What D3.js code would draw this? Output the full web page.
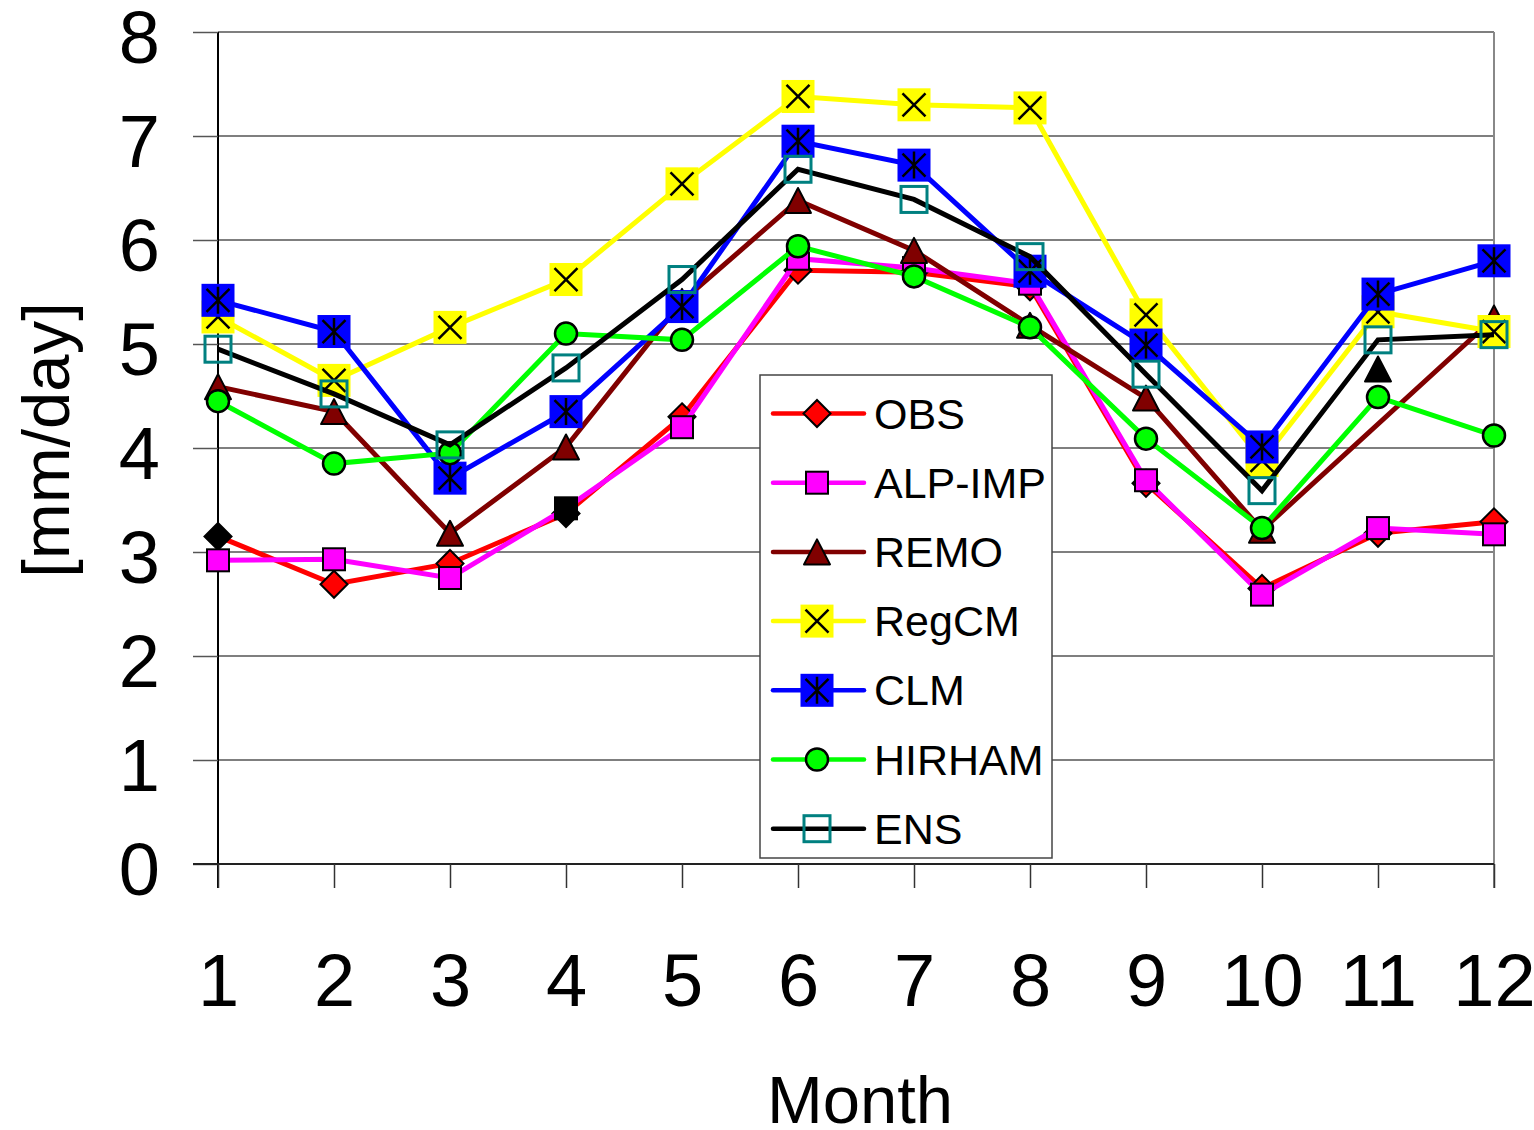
<!DOCTYPE html>
<html>
<head>
<meta charset="utf-8">
<script src="https://cdn.jsdelivr.net/npm/d3@7"></script>
<style>
  html, body { margin: 0; padding: 0; background: #fff; }
  svg { display: block; font-family: "Liberation Sans", Arial, sans-serif; }
</style>
</head>
<body>
<svg id="chart" width="1534" height="1130"></svg>
<script>
// Monthly mean precipitation [mm/day]
const months = [1, 2, 3, 4, 5, 6, 7, 8, 9, 10, 11, 12];
const yTicks = [0, 1, 2, 3, 4, 5, 6, 7, 8];

const obs    = [3.15, 2.69, 2.89, 3.37, 4.30, 5.71, 5.69, 5.55, 3.66, 2.65, 3.18, 3.29];
const alpImp = [2.92, 2.93, 2.75, 3.42, 4.20, 5.82, 5.73, 5.58, 3.69, 2.59, 3.23, 3.17];
const remo   = [4.59, 4.35, 3.18, 4.01, 5.41, 6.38, 5.90, 5.18, 4.48, 3.21, null, 5.25];
const regcm  = [5.26, 4.65, 5.16, 5.62, 6.54, 7.38, 7.30, 7.27, 5.28, 3.88, 5.31, 5.12];
const clm    = [5.42, 5.12, 3.71, 4.35, 5.36, 6.95, 6.72, 5.70, 4.99, 4.01, 5.48, 5.80];
const hirham = [4.45, 3.85, 3.95, 5.10, 5.04, 5.94, 5.65, 5.16, 4.09, 3.23, 4.49, 4.12];
const ens    = [4.95, 4.52, 4.03, 4.77, 5.62, 6.68, 6.39, 5.84, 4.71, 3.59, 5.04, 5.09];

const seriesNames = ["OBS", "ALP-IMP", "REMO", "RegCM", "CLM", "HIRHAM", "ENS"];
const seriesValues = [obs, alpImp, remo, regcm, clm, hirham, ens];

// points whose marker is filled black
const blackMarkers = [["OBS", 1], ["OBS", 4], ["ALP-IMP", 4]];
// a single marker not joined to its series line
const strayPoints = [{ series: "REMO", month: 11, value: 4.76 }];

const style = {
  "OBS":     { line: "#ff0000", marker: "diamond",  fill: "#ff0000" },
  "ALP-IMP": { line: "#ff00ff", marker: "square",   fill: "#ff00ff" },
  "REMO":    { line: "#800000", marker: "triangle", fill: "#800000" },
  "RegCM":   { line: "#ffff00", marker: "xbox",     fill: "#ffff00" },
  "CLM":     { line: "#0000ff", marker: "starbox",  fill: "#0000ff" },
  "HIRHAM":  { line: "#00ff00", marker: "circle",   fill: "#00ff00" },
  "ENS":     { line: "#000000", marker: "hollow",   fill: "none" }
};

const svg = d3.select("#chart");
const plotLeft = 218, plotRight = 1494, plotTop = 32, plotBottom = 864;

const x = d3.scaleLinear().domain([1, 12]).range([plotLeft, plotRight]);
const y = d3.scaleLinear().domain([0, 8]).range([plotBottom, plotTop]);

// horizontal gridlines
svg.append("g")
  .selectAll("line")
  .data(yTicks.filter(v => v > 0))
  .join("line")
  .attr("x1", plotLeft).attr("x2", plotRight)
  .attr("y1", d => y(d)).attr("y2", d => y(d))
  .attr("stroke", "#555").attr("stroke-width", 1.5);

// right frame edge
svg.append("line")
  .attr("x1", plotRight).attr("x2", plotRight)
  .attr("y1", plotTop).attr("y2", plotBottom + 24)
  .attr("stroke", "#888").attr("stroke-width", 2);

// y axis
const yAxis = svg.append("g")
  .attr("transform", `translate(${plotLeft},0)`)
  .call(d3.axisLeft(y).tickValues(yTicks).tickSize(25).tickSizeOuter(0).tickFormat(d3.format("d")));
yAxis.select(".domain").attr("stroke", "#000").attr("stroke-width", 2)
  .attr("d", `M0,${plotTop}V${plotBottom + 24}`);
yAxis.selectAll(".tick line").attr("stroke", "#555").attr("stroke-width", 1.5);
yAxis.selectAll(".tick text")
  .attr("x", -58).attr("dy", null).attr("y", 30)
  .attr("font-size", 74).attr("fill", "#000")
  .attr("font-family", "'Liberation Sans', Arial, sans-serif");

// x axis
const xAxis = svg.append("g")
  .attr("transform", `translate(0,${plotBottom})`)
  .call(d3.axisBottom(x).tickValues(months).tickSize(24).tickSizeOuter(0).tickFormat(d3.format("d")));
xAxis.select(".domain").attr("stroke", "#222").attr("stroke-width", 2)
  .attr("d", `M${plotLeft - 25},0H${plotRight}`);
xAxis.selectAll(".tick line").attr("stroke", "#333").attr("stroke-width", 1.5);
xAxis.selectAll(".tick text")
  .attr("y", 142).attr("dy", null)
  .attr("font-size", 74).attr("fill", "#000")
  .attr("font-family", "'Liberation Sans', Arial, sans-serif");

// axis titles
svg.append("text")
  .attr("x", 860).attr("y", 1123)
  .attr("text-anchor", "middle").attr("font-size", 67)
  .text("Month");
svg.append("text")
  .attr("transform", "translate(69,440) rotate(-90)")
  .attr("text-anchor", "middle").attr("font-size", 67)
  .text("[mm/day]");

// marker painter
function drawMarker(g, kind, fill) {
  switch (kind) {
    case "diamond":
      g.append("path").attr("d", "M0,-13.5L13.5,0L0,13.5L-13.5,0Z")
        .attr("fill", fill).attr("stroke", "#000").attr("stroke-width", 2);
      break;
    case "square":
      g.append("rect").attr("x", -11).attr("y", -11).attr("width", 22).attr("height", 22)
        .attr("fill", fill).attr("stroke", "#000").attr("stroke-width", 2);
      break;
    case "triangle":
      g.append("path").attr("d", "M0,-12.5L13,12.5L-13,12.5Z")
        .attr("fill", fill).attr("stroke", "#000").attr("stroke-width", 2)
        .attr("stroke-linejoin", "round");
      break;
    case "xbox":
      g.append("rect").attr("x", -16.5).attr("y", -16.5).attr("width", 33).attr("height", 33)
        .attr("fill", fill);
      g.append("path").attr("d", "M-11.5,-11.5L11.5,11.5M11.5,-11.5L-11.5,11.5")
        .attr("stroke", "#000").attr("stroke-width", 2.5);
      break;
    case "starbox":
      g.append("rect").attr("x", -16.5).attr("y", -16.5).attr("width", 33).attr("height", 33)
        .attr("fill", fill);
      g.append("path").attr("d", "M-11.5,-11.5L11.5,11.5M11.5,-11.5L-11.5,11.5M0,-13.5L0,13.5")
        .attr("stroke", "#000").attr("stroke-width", 2.5);
      break;
    case "circle":
      g.append("circle").attr("r", 11)
        .attr("fill", fill).attr("stroke", "#000").attr("stroke-width", 2.5);
      break;
    case "hollow":
      g.append("rect").attr("x", -13).attr("y", -13).attr("width", 26).attr("height", 26)
        .attr("fill", "none").attr("stroke", "#008080").attr("stroke-width", 3);
      break;
  }
}

const line = d3.line().x(d => x(d.month)).y(d => y(d.value));

// series: line then markers, in order
seriesNames.forEach((name, i) => {
  const st = style[name];
  const pts = months.map((m, j) => ({ month: m, value: seriesValues[i][j] }))
    .filter(d => d.value != null);
  const g = svg.append("g").attr("class", "series");
  g.append("path").datum(pts)
    .attr("d", line)
    .attr("fill", "none").attr("stroke", st.line).attr("stroke-width", 5)
    .attr("stroke-linejoin", "miter");
  pts.forEach(p => {
    const black = blackMarkers.some(b => b[0] === name && b[1] === p.month);
    const mg = g.append("g").attr("transform", `translate(${x(p.month)},${y(p.value)})`);
    drawMarker(mg, st.marker, black ? "#000" : st.fill);
  });
  strayPoints.filter(s => s.series === name).forEach(s => {
    const mg = g.append("g").attr("transform", `translate(${x(s.month)},${y(s.value)})`);
    drawMarker(mg, st.marker, "#000");
  });
});

// legend
const legend = svg.append("g").attr("transform", "translate(760,375)");
legend.append("rect")
  .attr("x", 0).attr("y", 0).attr("width", 292).attr("height", 483)
  .attr("fill", "#fff").attr("stroke", "#444").attr("stroke-width", 1.5);
seriesNames.forEach((name, i) => {
  const st = style[name];
  const cy = 38.5 + i * 69.2;
  const row = legend.append("g").attr("transform", `translate(0,${cy})`);
  row.append("line").attr("x1", 13).attr("x2", 104).attr("y1", 0).attr("y2", 0)
    .attr("stroke", st.line).attr("stroke-width", 4.5).attr("stroke-linecap", "round");
  const mg = row.append("g").attr("transform", "translate(57,0)");
  drawMarker(mg, st.marker, st.fill);
  row.append("text").attr("x", 114).attr("y", 15)
    .attr("font-size", 43).attr("fill", "#000").text(name);
});
</script>
</body>
</html>
